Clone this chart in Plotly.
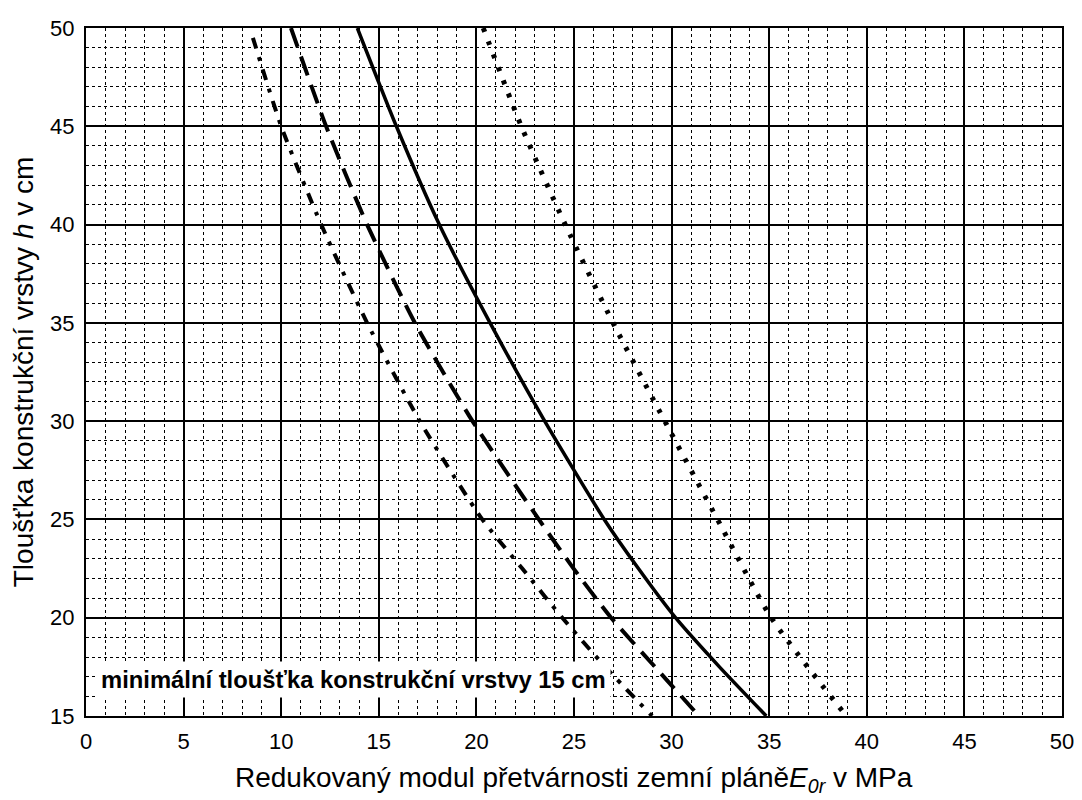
import plotly.graph_objects as go

# Thickness h (cm) and corresponding reduced modulus E0r (MPa) for each curve
h_solid = [50, 45, 40, 35, 30, 25, 22.5, 20, 17.5, 15]
e_solid = [13.9, 15.9, 18.1, 20.7, 23.5, 26.55, 28.3, 30.2, 32.45, 34.85]

h_dashed = [50, 45, 40, 35, 30, 25, 22.5, 20, 17.5, 15]
e_dashed = [10.5, 12.3, 14.4, 16.85, 19.8, 23.2, 24.98, 26.9, 29.15, 31.4]

h_dashdot = [49.5, 45, 40, 35, 30, 25, 22.5, 20, 17.5, 15]
e_dashdot = [8.55, 10.0, 12.05, 14.4, 17.1, 20.3, 22.35, 24.4, 26.6, 29.0]

h_dotted = [50, 45, 40, 35, 30, 25, 20, 15]
e_dotted = [20.35, 22.3, 24.55, 27.0, 29.65, 32.35, 35.1, 38.95]

x_ticks = [0, 5, 10, 15, 20, 25, 30, 35, 40, 45, 50]
y_ticks = [15, 20, 25, 30, 35, 40, 45, 50]

note_text = "minimální tloušťka konstrukční vrstvy 15 cm"
x_title = "Redukovaný modul přetvárnosti zemní pláně<i>E<sub>0r</sub></i> v MPa"
y_title = "Tloušťka konstrukční vrstvy <i>h</i> v cm"

FONT = "Liberation Sans, Arial, sans-serif"

fig = go.Figure()
fig.add_trace(go.Scatter(x=e_dotted, y=h_dotted, mode="lines",
                         line=dict(color="black", width=5, dash="4px,10px", shape="spline", smoothing=0.6),
                         showlegend=False, hoverinfo="skip"))
fig.add_trace(go.Scatter(x=e_dashdot, y=h_dashdot, mode="lines",
                         line=dict(color="black", width=4, dash="11px,9px,4px,9px", shape="spline", smoothing=0.6),
                         showlegend=False, hoverinfo="skip"))
fig.add_trace(go.Scatter(x=e_dashed, y=h_dashed, mode="lines",
                         line=dict(color="black", width=4, dash="20px,10px", shape="spline", smoothing=0.6),
                         showlegend=False, hoverinfo="skip"))
fig.add_trace(go.Scatter(x=e_solid, y=h_solid, mode="lines",
                         line=dict(color="black", width=3.5, shape="spline", smoothing=0.6),
                         showlegend=False, hoverinfo="skip"))

axis_common = dict(
    showline=True, mirror=True, linecolor="black", linewidth=2,
    showgrid=True, gridcolor="black", gridwidth=1.5,
    zeroline=False, ticks="", ticklabeloverflow="allow",
    tickfont=dict(family=FONT, size=22, color="black"),
)

fig.update_xaxes(range=[0, 50], tickvals=x_ticks, ticktext=[str(v) for v in x_ticks],
                 ticklabelstandoff=5,
                 minor=dict(dtick=1, showgrid=True, gridcolor="black", griddash="dot", gridwidth=1),
                 **axis_common)
fig.update_yaxes(range=[15, 50], tickvals=y_ticks, ticktext=[str(v) for v in y_ticks],
                 ticklabelstandoff=5,
                 minor=dict(dtick=1, showgrid=True, gridcolor="black", griddash="dot", gridwidth=1),
                 **axis_common)

fig.add_annotation(x=0.5, y=16.85, xref="x", yref="y", xanchor="left", yanchor="middle",
                   text="<b>" + note_text + "</b>", showarrow=False,
                   font=dict(family=FONT, size=23.8, color="black"),
                   bgcolor="white", borderpad=4)

# page body carries an 8px offset: the figure is sized/margined so the plot area
# lands at x 86..1066, y 16..716 in the 1082x800 window
fig.add_annotation(x=0.5, y=(708 - 773) / 700, xref="paper", yref="paper",
                   xanchor="center", yanchor="middle",
                   text=x_title, showarrow=False,
                   font=dict(family=FONT, size=28, color="black"))
fig.add_annotation(x=(15 - 78) / 980, y=0.5, xref="paper", yref="paper",
                   xanchor="center", yanchor="middle",
                   text=y_title, showarrow=False, textangle=-90,
                   font=dict(family=FONT, size=28, color="black"))

fig.update_layout(
    width=1074, height=792,
    margin=dict(l=78, r=16, t=8, b=84),
    paper_bgcolor="white", plot_bgcolor="white",
    font=dict(family=FONT, color="black"),
)

fig.write_html("out.html")
